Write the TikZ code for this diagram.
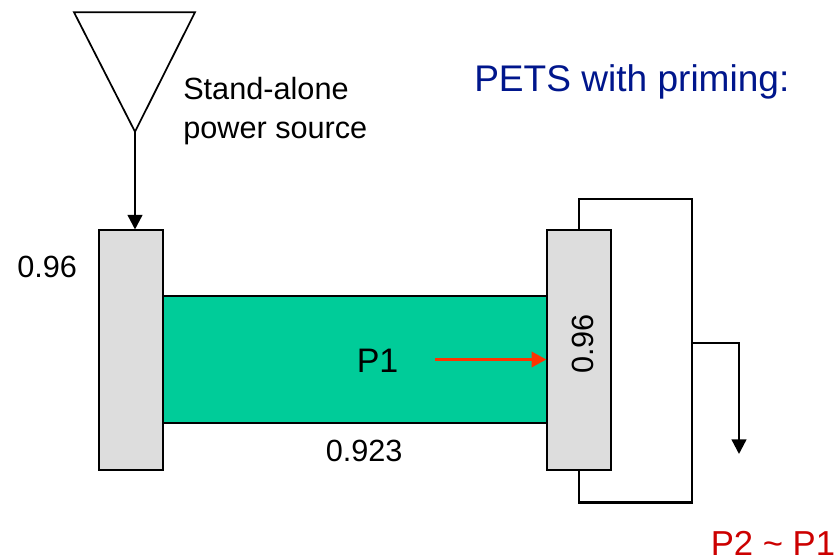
\documentclass[tikz,border=0pt]{standalone}
\usepackage{fontspec}
\setmainfont{Liberation Sans}
\usetikzlibrary{arrows.meta}
\definecolor{pgreen}{RGB}{0,204,153}
\definecolor{pgray}{RGB}{221,221,221}
\definecolor{pnavy}{RGB}{0,22,140}
\definecolor{pred}{RGB}{255,51,0}
\definecolor{tred}{RGB}{204,0,0}
\tikzset{
  cavity/.style={draw=black, line width=1.5pt, fill=pgray, minimum width=48pt, minimum height=180pt, inner sep=0pt},
  guide/.style={draw=black, line width=1.5pt, fill=pgreen, minimum width=288.4pt, minimum height=95.6pt, inner sep=0pt},
  wire/.style={draw=black, line width=1.8pt},
  blackarrow/.style={wire, -{Triangle[length=11pt,width=11pt]}},
  redarrow/.style={draw=pred, line width=2pt, -{Triangle[length=11pt,width=11.5pt]}},
  lbl/.style={inner sep=0pt, anchor=base west},
}
\begin{document}
\begin{tikzpicture}[x=0.75pt,y=-0.75pt]
\useasboundingbox (0,0) rectangle (840,559);
% green waveguide
\node[guide] (wg) at (354.75,359.25) {};
% gray couplers
\node[cavity] (lbox) at (130.5,350.5) {};
\node[cavity] (rbox) at (579.25,350.5) {};
% source triangle
\coordinate (tl) at (74,12.3);
\coordinate (tr) at (195,12.3);
\coordinate (apex) at (135,131.7);
\draw[black, line width=1.3pt, line join=miter] (tl) -- (tr) -- (apex) -- cycle;
\draw[blackarrow] (apex) -- (apex |- lbox.north);
% loop
\coordinate (rt) at (691.7,199);
\coordinate (rb) at (691.7,502.7);
\coordinate (br) at (691.7,343.3);
\coordinate (bo) at (739,343.3);
\coordinate (be) at (739,454);
\draw[wire, line join=miter] (rbox.north) |- (rt) -- (rb) -| (rbox.south);
\draw[blackarrow] (br) -- (bo) -- (be);
% red arrow
\coordinate (ra) at (435,359.5);
\draw[redarrow] (ra) -- (ra -| rbox.west);
% texts
\node[lbl, font=\fontsize{23pt}{27pt}\selectfont] (t1) at (183,100) {Stand-alone};
\node[lbl, font=\fontsize{23pt}{27pt}\selectfont] (t2) at (183,138.5) {power source};
\node[lbl, font=\fontsize{27.8pt}{32pt}\selectfont, text=pnavy] (t3) at (474,91.7) {PETS with priming:};
\node[lbl, font=\fontsize{23pt}{27pt}\selectfont] (t4) at (17,277.7) {0.96};
\node[lbl, font=\fontsize{25.5pt}{30pt}\selectfont] (t5) at (356.5,372.7) {P1};
\node[lbl, font=\fontsize{23pt}{27pt}\selectfont] (t6) at (325.5,461.7) {0.923};
\node[lbl, font=\fontsize{26pt}{30pt}\selectfont, text=tred] (t7) at (710.5,555.5) {P2 \char"007E{} P1};
\node[inner sep=0pt, rotate=90, font=\fontsize{23pt}{27pt}\selectfont] (t8) at (582.5,344) {0.96};
\end{tikzpicture}
\end{document}
